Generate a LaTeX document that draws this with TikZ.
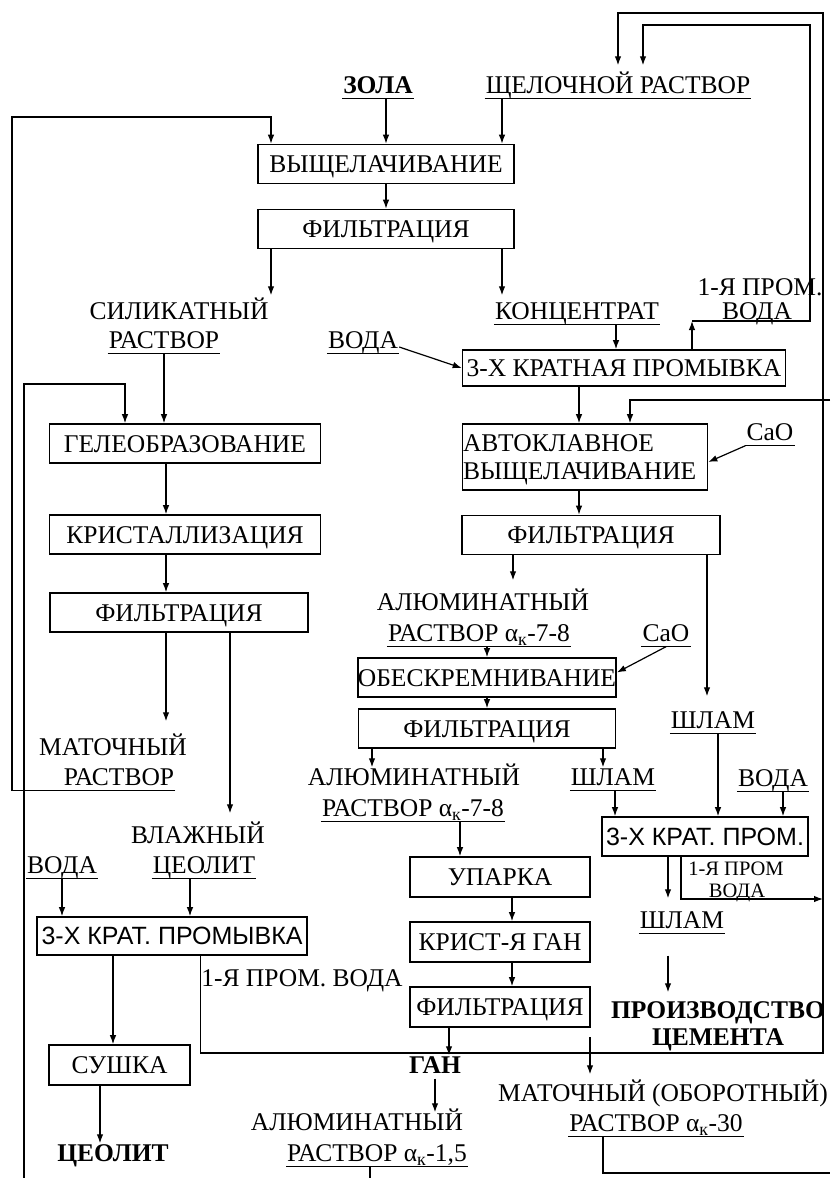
\documentclass[tikz,border=0pt]{standalone}
\usepackage{fontspec}
\setmainfont{Liberation Serif}
\setsansfont{Liberation Sans}
\usetikzlibrary{arrows.meta}
\newcommand\figfont{\fontsize{25.5}{28}\selectfont}
\newcommand\figsans{\fontsize{25}{28}\selectfont\sffamily}
\newcommand\figsmall{\fontsize{20.5}{22}\selectfont}
\begin{document}
\begin{tikzpicture}[x=1pt, y=-1pt,
  box/.style={draw, line width=1.6pt, minimum height=39pt, inner sep=1pt, text height=17pt, text depth=0pt, font=\figfont},
  sbox/.style={box, font=\figsans},
  lbl/.style={inner sep=1pt, text height=17pt, text depth=4pt, font=\figfont},
  blbl/.style={lbl, font=\figfont\bfseries},
  slbl/.style={inner sep=1pt, text height=14pt, text depth=3pt, font=\figsmall},
  arr/.style={-{Latex[length=9pt,width=6.5pt]}, line width=1.2pt},
  ln/.style={line width=1.2pt},
  ul/.style={line width=1.3pt}]
\useasboundingbox (0,0) rectangle (830,1178);
% boxes
\node[box, minimum width=256pt] (vysh) at (386,164) {ВЫЩЕЛАЧИВАНИЕ};
\node[box, minimum width=256pt] (filt1) at (386,229) {ФИЛЬТРАЦИЯ};
\node[box, minimum width=323pt, minimum height=36pt] (prom1) at (624,368) {3-Х КРАТНАЯ ПРОМЫВКА};
\node[box, minimum height=66pt, text width=244pt, text depth=28pt, inner sep=0.5pt, align=left] (avto) at (585,457) {АВТОКЛАВНОЕ\\ВЫЩЕЛАЧИВАНИЕ};
\node[box, minimum width=258pt] (filt3) at (591,535) {ФИЛЬТРАЦИЯ};
\node[box, minimum width=257pt, inner sep=0pt] (obes) at (487,677.5) {ОБЕСКРЕМНИВАНИЕ};
\node[box, minimum width=257pt] (filt4) at (487,728.5) {ФИЛЬТРАЦИЯ};
\node[box, minimum width=271pt] (gel) at (185,443.5) {ГЕЛЕОБРАЗОВАНИЕ};
\node[box, minimum width=271pt] (kris) at (185,534.5) {КРИСТАЛЛИЗАЦИЯ};
\node[box, minimum width=258pt] (filt2) at (179,612.5) {ФИЛЬТРАЦИЯ};
\node[sbox, minimum width=270pt, minimum height=38pt] (prom2) at (172,936) {3-Х КРАТ. ПРОМЫВКА};
\node[box, minimum width=141pt, minimum height=40pt] (sush) at (119.5,1065) {СУШКА};
\node[box, minimum width=180pt, minimum height=40pt] (upar) at (500,877) {УПАРКА};
\node[box, minimum width=180pt, minimum height=40pt] (krgan) at (500,942) {КРИСТ-Я ГАН};
\node[box, minimum width=180pt, minimum height=40pt] (filt5) at (500,1007) {ФИЛЬТРАЦИЯ};
\node[sbox, minimum width=206pt] (prom3) at (705,836.5) {3-Х КРАТ. ПРОМ.};
% labels
\node[blbl] (zola) at (378,87) {ЗОЛА};
\node[lbl] (shch) at (618,87) {ЩЕЛОЧНОЙ РАСТВОР};
\node[lbl] (sil1) at (179,313) {СИЛИКАТНЫЙ};
\node[lbl] (sil2) at (164,342) {РАСТВОР};
\node[lbl] (konc) at (577,313) {КОНЦЕНТРАТ};
\node[lbl] (pv1) at (760,289) {1-Я ПРОМ.};
\node[lbl] (pv2) at (757,313) {ВОДА};
\node[lbl] (voda1) at (363,342) {ВОДА};
\node[lbl] (cao1) at (770,434) {CaO};
\node[lbl] (alum1) at (483,604) {АЛЮМИНАТНЫЙ};
\node[lbl] (rast1) at (479,635) {РАСТВОР α\textsubscript{к}-7-8};
\node[lbl] (cao2) at (666,635) {CaO};
\node[lbl] (shl1) at (713,722) {ШЛАМ};
\node[lbl] (matr1) at (113,749) {МАТОЧНЫЙ};
\node[lbl] (matr2) at (119,779) {РАСТВОР};
\node[lbl] (alum2) at (414,779) {АЛЮМИНАТНЫЙ};
\node[lbl] (shl2) at (613,779) {ШЛАМ};
\node[lbl] (voda4) at (773,780) {ВОДА};
\node[lbl] (rast2) at (413,810) {РАСТВОР α\textsubscript{к}-7-8};
\node[lbl] (vlazh) at (198,837) {ВЛАЖНЫЙ};
\node[lbl] (ceol1) at (204,867) {ЦЕОЛИТ};
\node[lbl] (voda2) at (62,867) {ВОДА};
\node[slbl] (pv3) at (736,870) {1-Я ПРОМ};
\node[slbl] (pv4) at (737,892) {ВОДА};
\node[lbl] (shl3) at (682,922) {ШЛАМ};
\node[lbl] (pv5) at (302,980) {1-Я ПРОМ. ВОДА};
\node[blbl] (proiz1) at (718,1012) {ПРОИЗВОДСТВО};
\node[blbl] (proiz2) at (718,1039) {ЦЕМЕНТА};
\node[blbl] (gan) at (435,1067) {ГАН};
\node[lbl] (mat3) at (663,1095) {МАТОЧНЫЙ (ОБОРОТНЫЙ)};
\node[lbl] (alum3) at (357,1124) {АЛЮМИНАТНЫЙ};
\node[lbl] (rast4) at (656,1125) {РАСТВОР α\textsubscript{к}-30};
\node[blbl] (ceol2) at (113,1155) {ЦЕОЛИТ};
\node[lbl] (rast3) at (377,1155) {РАСТВОР α\textsubscript{к}-1,5};
\foreach \n in {zola,shch,sil2,konc,voda1,cao1,rast1,cao2,shl1,shl2,voda4,rast2,ceol1,voda2,shl3,rast3,rast4}
  \draw[ul] (\n.south west) -- (\n.south east);
% loop corners
\coordinate (o1) at (823,13);
\coordinate (o2) at (823,1053);
\coordinate (i1) at (810,25);
\coordinate (i2) at (810,321);
\coordinate (l1) at (12,117);
\coordinate (l2) at (24,1178);
\coordinate (l3) at (24,384);
\coordinate (r1) at (830,400);
\coordinate (r2) at (823,899);
\coordinate (b1) at (370,1178);
\coordinate (b2) at (830,1173);
% top
\draw[arr] (zola.south -| vysh.north) -- (vysh.north);
\draw[arr] ([xshift=-116pt]shch.south) -- ([xshift=116pt]vysh.north);
\draw[arr] (vysh) -- (filt1);
\draw[arr, shorten >=6pt] ([xshift=-115pt]filt1.south) -- ([xshift=-115pt]filt1.south |- sil1.north);
\draw[arr, shorten >=6pt] ([xshift=116pt]filt1.south) -- ([xshift=116pt]filt1.south |- konc.north);
\draw[arr, shorten >=10pt] (prom2.south -| pv5.west) |- (o2) -- (o1) -| (shch.north);
\draw[arr] ([xshift=68pt]prom1.north) -- ([xshift=68pt]prom1.north |- i2);
\draw[arr, shorten >=10pt] ([xshift=68pt]prom1.north |- i2) -- (i2) -- (i1) -| ([xshift=25pt]shch.north);
\draw[arr] (matr2.south east) -- (matr2.south east -| l1) -- (l1) -| ([xshift=-115pt]vysh.north);
% right column
\draw[arr] ([xshift=39pt]konc.south) -- ([xshift=-8pt]prom1.north);
\draw[arr] ([yshift=-5pt]voda1.east) -- (prom1.west);
\draw[arr] ([xshift=-45pt]prom1.south) -- ([xshift=-6pt]avto.north);
\draw[arr] (r1) -| ([xshift=45pt]avto.north);
\draw[arr] (cao1.south west) -- ([yshift=-5pt]avto.east);
\draw[arr] ([xshift=-6pt]avto.south) -- ([xshift=-12pt]filt3.north);
\draw[arr, shorten >=12pt] ([xshift=-78pt]filt3.south) -- ([xshift=-78pt]filt3.south |- alum1.north);
\draw[arr, shorten >=14pt] ([xshift=116pt]filt3.south) -- ([xshift=116pt]filt3.south |- shl1.north);
\draw[arr] ([xshift=8pt]rast1.south) -- (obes.north);
\draw[arr] (cao2.south) -- ([yshift=5pt]obes.east);
\draw[arr] (obes) -- (filt4);
\draw[arr] ([xshift=-115pt]filt4.south) -- ([xshift=-115pt]filt4.south |- alum2.north);
\draw[arr] ([xshift=116pt]filt4.south) -- ([xshift=116pt]filt4.south |- shl2.north);
\draw[arr] ([xshift=2pt]shl2.south) -- ([xshift=2pt]shl2.south |- prom3.north);
\draw[arr] ([xshift=5pt]shl1.south) -- ([xshift=5pt]shl1.south |- prom3.north);
\draw[arr] ([xshift=10pt]voda4.south) -- ([xshift=10pt]voda4.south |- prom3.north);
\draw[arr, shorten >=12pt] ([xshift=-37pt]prom3.south) -- ([xshift=-37pt]prom3.south |- shl3.north);
\draw[arr] ([xshift=-24pt]prom3.south) |- (r2);
\draw[arr, shorten <=22pt, shorten >=8pt] ([xshift=-14pt]shl3.south) -- ([xshift=-14pt]shl3.south |- proiz1.north);
% middle column
\draw[arr] ([xshift=47pt]rast2.south) -- ([xshift=47pt]rast2.south |- upar.north);
\draw[arr] ([xshift=12pt]upar.south) -- ([xshift=12pt]krgan.north);
\draw[arr] ([xshift=12pt]krgan.south) -- ([xshift=12pt]filt5.north);
\draw[arr] ([xshift=-51pt]filt5.south) -- ([xshift=-51pt]filt5.south |- gan.north);
\draw[arr] (gan.south) -- (gan.south |- alum3.north);
\draw[ln] (rast3.south -| b1) -- (b1);
\draw[arr] ([xshift=-73pt, yshift=16pt]mat3.north |- o2) -- ([xshift=-73pt, yshift=9pt]mat3.north);
\draw[ln] ([xshift=-53pt]rast4.south) |- (b2);
% left column
\draw[arr] (l2) -- (l3) -| ([xshift=-60pt]gel.north);
\draw[arr] (sil2.south) -- (sil2.south |- gel.north);
\draw[arr] ([xshift=-19pt]gel.south) -- ([xshift=-19pt]kris.north);
\draw[arr] ([xshift=-19pt]kris.south) -- ([xshift=-13pt]filt2.north);
\draw[arr, shorten >=16pt] ([xshift=-13pt]filt2.south) -- ([xshift=-13pt]filt2.south |- matr1.north);
\draw[arr, shorten >=12pt] ([xshift=51pt]filt2.south) -- ([xshift=51pt]filt2.south |- vlazh.north);
\draw[arr] (voda2.south) -- (voda2.south |- prom2.north);
\draw[arr] ([xshift=-14pt]ceol1.south) -- ([xshift=-14pt]ceol1.south |- prom2.north);
\draw[arr] ([xshift=-59pt]prom2.south) -- ([xshift=-59pt]prom2.south |- sush.north);
\draw[arr] ([xshift=-19.5pt]sush.south) -- ([xshift=-19.5pt]sush.south |- ceol2.north);
\end{tikzpicture}
\end{document}
